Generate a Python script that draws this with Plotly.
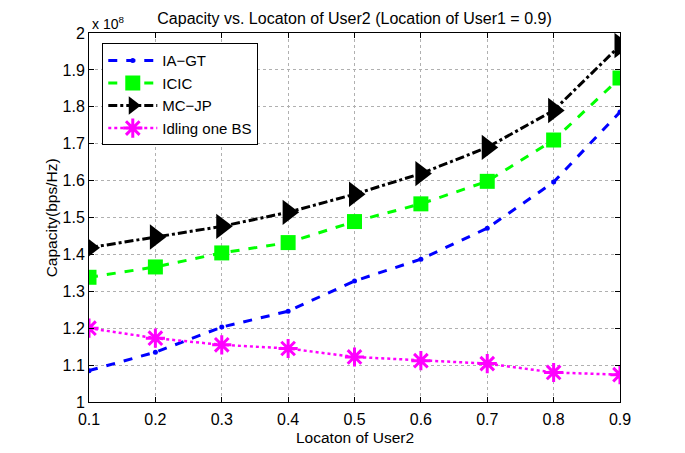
import plotly.graph_objects as go

x_loc = [0.1, 0.2, 0.3, 0.4, 0.5, 0.6, 0.7, 0.8, 0.9]
ia_gt = [1.085, 1.135, 1.203, 1.246, 1.328, 1.387, 1.471, 1.596, 1.786]
icic = [1.338, 1.366, 1.404, 1.432, 1.489, 1.537, 1.598, 1.710, 1.878]
mc_jp = [1.418, 1.447, 1.476, 1.514, 1.563, 1.619, 1.690, 1.790, 1.966]
idling = [1.200, 1.173, 1.155, 1.145, 1.122, 1.112, 1.104, 1.080, 1.074]
y_ticks = [1, 1.1, 1.2, 1.3, 1.4, 1.5, 1.6, 1.7, 1.8, 1.9, 2]
y_tick_text = ["1", "1.1", "1.2", "1.3", "1.4", "1.5", "1.6", "1.7", "1.8", "1.9", "2"]
x_tick_text = ["0.1", "0.2", "0.3", "0.4", "0.5", "0.6", "0.7", "0.8", "0.9"]

FONT = "Liberation Sans, Arial, Helvetica, sans-serif"

fig = go.Figure()
fig.add_trace(go.Scatter(x=x_loc, y=ia_gt, name="IA\u2212GT", mode="lines+markers",
                         line=dict(color="#0000ff", width=3, dash="dash"),
                         marker=dict(symbol="circle", size=5, color="#0000ff")))
fig.add_trace(go.Scatter(x=x_loc, y=icic, name="ICIC", mode="lines+markers",
                         line=dict(color="#00ff00", width=3, dash="dash"),
                         marker=dict(symbol="square", size=15, color="#00ff00")))
fig.add_trace(go.Scatter(x=x_loc, y=mc_jp, name="MC\u2212JP", mode="lines+markers",
                         line=dict(color="#000000", width=3, dash="dashdot"),
                         marker=dict(symbol="triangle-right", size=22, color="#000000")))
fig.add_trace(go.Scatter(x=x_loc, y=idling, name="Idling one BS", mode="lines+markers",
                         line=dict(color="#ff00ff", width=2.5, dash="dot"),
                         marker=dict(symbol="asterisk-open", size=16,
                                     line=dict(color="#ff00ff", width=3))))

# the page body adds an 8px offset; margins compensate for it
fig.update_layout(
    width=685, height=453,
    paper_bgcolor="white", plot_bgcolor="white",
    margin=dict(l=81, r=73, t=25, b=59, autoexpand=False),
    font=dict(family=FONT, size=15, color="black"),
    title=dict(text="Capacity vs. Locaton of User2 (Location of User1 = 0.9)",
               x=(81 + 612) / 2 / 685, xref="container", xanchor="center",
               y=1 - 10 / 453, yref="container", yanchor="middle",
               font=dict(family=FONT, size=16, color="black")),
    showlegend=True,
    legend=dict(x=0.025, y=0.972, xanchor="left", yanchor="top",
                bordercolor="black", borderwidth=1, bgcolor="white",
                font=dict(family=FONT, size=15, color="black"),
                tracegroupgap=0, itemwidth=49),
    annotations=[
        dict(text="x 10<sup>8</sup>", x=0.0, y=1.0, xref="paper", yref="paper",
             xanchor="left", yanchor="bottom", showarrow=False,
             font=dict(family=FONT, size=14, color="black"), yshift=-1, xshift=1),
        dict(text="Locaton of User2", x=0.5, y=-0.097, xref="paper", yref="paper",
             xanchor="center", yanchor="middle", showarrow=False,
             font=dict(family=FONT, size=15.5, color="black")),
        dict(text="Capacity(bps/Hz)", x=-0.07, y=0.5, xref="paper", yref="paper",
             xanchor="center", yanchor="middle", showarrow=False, textangle=-90,
             font=dict(family=FONT, size=15.5, color="black")),
    ],
)
fig.update_xaxes(range=[0.1, 0.9], tickvals=x_loc, ticktext=x_tick_text,
                 showline=True, linecolor="black", linewidth=1, mirror="ticks",
                 ticks="inside", ticklen=5, tickcolor="black", automargin=False,
                 showgrid=True, gridcolor="#b0b0b0", griddash="dot", gridwidth=1,
                 zeroline=False, ticklabelstandoff=3,
                 tickfont=dict(family=FONT, size=16, color="black"))
fig.update_yaxes(range=[1, 2], tickvals=y_ticks, ticktext=y_tick_text,
                 showline=True, linecolor="black", linewidth=1, mirror="ticks",
                 ticks="inside", ticklen=5, tickcolor="black", automargin=False,
                 showgrid=True, gridcolor="#b0b0b0", griddash="dot", gridwidth=1,
                 zeroline=False,
                 tickfont=dict(family=FONT, size=16, color="black"))

fig.write_html("out.html")
